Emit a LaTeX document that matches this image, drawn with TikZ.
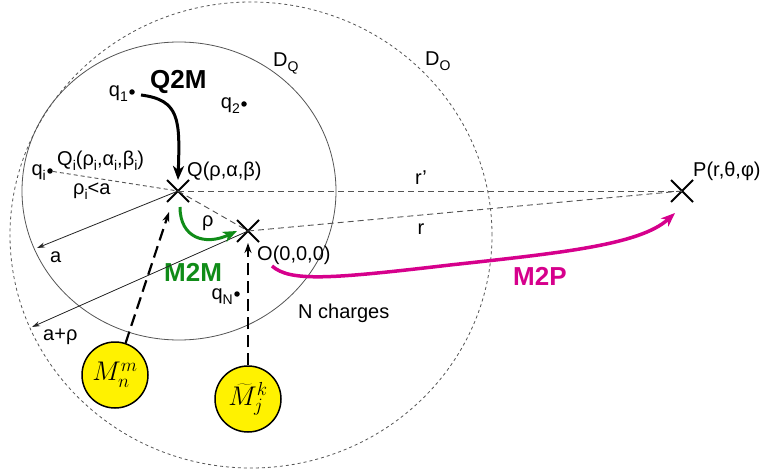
\RequirePackage{fix-cm}
\documentclass[tikz,border=0pt]{standalone}
\usepackage{fontspec}
\setmainfont{Liberation Sans}
\usetikzlibrary{arrows.meta,shapes.misc}
\definecolor{mtwom}{RGB}{16,140,24}
\definecolor{mtwop}{RGB}{214,0,140}
\definecolor{lgray}{RGB}{85,85,85}
\newcommand{\sbx}[1]{\raisebox{-5pt}{\fontsize{14}{14}\selectfont #1}}
\begin{document}
\begin{tikzpicture}[x=1pt,y=-1pt,
  lbl/.style={inner sep=0, font=\fontsize{20}{24}\selectfont},
  bigl/.style={inner sep=0, font=\fontsize{26}{30}\selectfont\bfseries},
  dotn/.style={circle, fill=black, inner sep=0, minimum size=5.5pt},
  xmark/.style={cross out, draw=black, line width=2pt, minimum size=20pt, inner sep=0},
  guide/.style={draw=lgray, dash pattern=on 6pt off 4pt, line width=0.9pt},
  radarrow/.style={draw=black!85, line width=0.8pt, -{Stealth[length=8pt,width=5pt]}},
  mpole/.style={circle, draw=black, line width=1.5pt, fill=yellow, minimum size=66pt, inner sep=0, font=\fontsize{27}{32}\selectfont},
  feed/.style={line width=2.2pt, dash pattern=on 12pt off 6pt, -{Stealth[length=10pt,width=7pt]}},
  flow/.style={line width=3pt, -{Stealth[length=14pt,width=11pt,inset=4pt]}}
]
\useasboundingbox (0,0) rectangle (765,470);
\fill[white] (0,0) rectangle (765,470);

% domains
\draw[lgray, line width=0.8pt] (179,191) ellipse [x radius=157pt, y radius=149pt];
\draw[lgray, line width=0.8pt, dash pattern=on 3pt off 3pt] (251,235) ellipse [x radius=241pt, y radius=233pt];

% points
\node[xmark] (Q) at (178,191) {};
\node[xmark] (O) at (248,231) {};
\node[xmark] (P) at (682,191) {};

\node[dotn] (q1) at (132,92) {};
\node[dotn] (q2) at (244,104) {};
\node[dotn] (qi) at (50,171) {};
\node[dotn] (qN) at (237,294) {};

% labels
\node[lbl, anchor=base east] (q1l) at (128,97) {q\sbx{1}};
\node[lbl, anchor=base east] (q2l) at (240,109) {q\sbx{2}};
\node[lbl, anchor=base east] (qil) at (46,176) {q\sbx{i}};
\node[lbl, anchor=base east] (qNl) at (233,299) {q\sbx{N}};
\node[lbl, anchor=base west] (Qil) at (57,166) {Q\sbx{i}(ρ\sbx{i},α\sbx{i},β\sbx{i})};
\node[lbl, anchor=base west] (ril) at (73,195) {ρ\sbx{i}<a};
\node[lbl, anchor=base west] (Ql) at (187,177) {Q(ρ,α,β)};
\node[lbl, anchor=base west] (rhol) at (202,227) {ρ};
\node[lbl, anchor=base west] (Ol) at (257,260) {O(0,0,0)};
\node[lbl, anchor=base] (rpl) at (421,185) {r’};
\node[lbl, anchor=base] (rl) at (421,235) {r};
\node[lbl, anchor=base west] (Pl) at (693,177) {P(r,θ,φ)};
\node[lbl, anchor=base west] (DQl) at (273,67) {D\sbx{Q}};
\node[lbl, anchor=base west] (DOl) at (425,66) {D\sbx{O}};
\node[lbl, anchor=base west] (al) at (50,262) {a};
\node[lbl, anchor=base west] (apl) at (43,340) {a+ρ};
\node[lbl, anchor=base west] (Ncl) at (298,318) {N charges};
\node[bigl, anchor=base west] (q2ml) at (150,89) {Q2M};
\node[bigl, anchor=base west, text=mtwom] (m2ml) at (164,281) {M2M};
\node[bigl, anchor=base west, text=mtwop] (m2pl) at (513,285) {M2P};

% guide lines
\draw[guide, dash pattern=on 4pt off 3pt] (qi) -- (Q.center);
\draw[guide] (Q.center) -- (O.center);
\draw[guide] (Q.center) -- (P.center);
\draw[guide] (O.center) -- (P.center);

% radii
\coordinate (atip) at (37,248);
\coordinate (aptip) at (32,327);
\draw[radarrow] (Q.center) -- (atip);
\draw[radarrow] (O.center) -- (aptip);

% multipoles
\node[mpole] (Mn) at (115,375) {$M_n^m$};
\node[mpole] (Mj) at (248,399) {$\widetilde{M}_j^k$};
\coordinate (mntip) at (169,212);
\coordinate (mjtip) at (248,243);
\draw[feed] (Mn) -- (mntip);
\draw[feed] (Mj) -- (mjtip);

% operators
\draw[flow, black] ([xshift=9pt,yshift=-3pt]q1.center) .. controls (180,100) and (180,120) .. (Q.north);
\draw[flow, mtwom] ([xshift=2pt,yshift=-5pt]Q.south) .. controls (180,238) and (205,246) .. (O.west);
\coordinate (m2ps) at (272,266);
\coordinate (m2pe) at (675,213);
\draw[flow, mtwop, line width=3.5pt] (m2ps) .. controls (290,282) and (330,279) .. (450,265) .. controls (560,253) and (640,245) .. (m2pe);
\end{tikzpicture}
\end{document}
